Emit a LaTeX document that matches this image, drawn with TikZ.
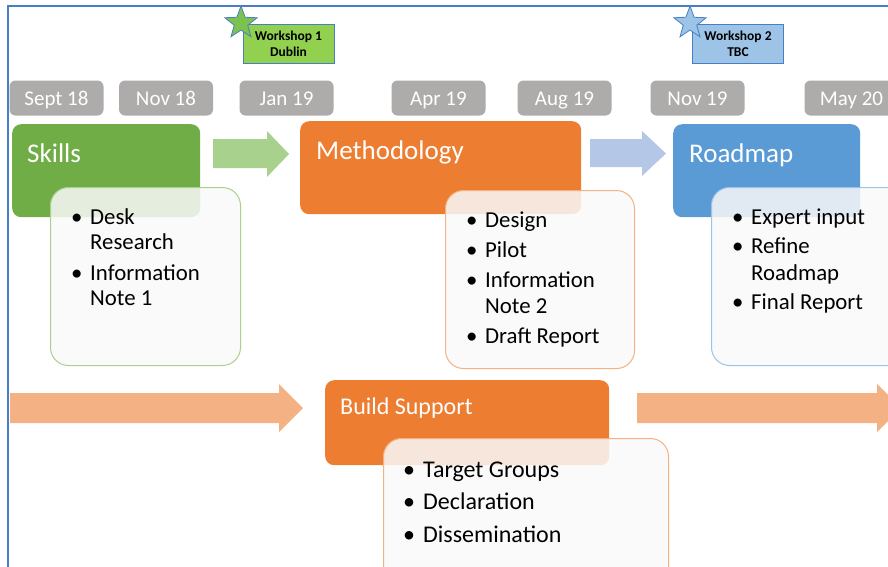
\documentclass[tikz,border=0pt]{standalone}
\usepackage{fontspec}
\setmainfont{Carlito}
\usetikzlibrary{shapes.geometric}

\definecolor{frameblue}{HTML}{4A7EC4}
\definecolor{dategray}{HTML}{AEABAB}
\definecolor{skillgreen}{HTML}{70AD47}
\definecolor{lightgreen}{HTML}{A9D18E}
\definecolor{methorange}{HTML}{ED7D31}
\definecolor{lightorange}{HTML}{F4B183}
\definecolor{roadblue}{HTML}{5B9BD5}
\definecolor{lightblue}{HTML}{B4C7E7}
\definecolor{paleblue}{HTML}{9DC3E6}
\definecolor{wsgreen}{HTML}{92D050}
\definecolor{stargreen}{HTML}{7CC24E}
\definecolor{detailfill}{HTML}{F9F9F9}

\begin{document}
\begin{tikzpicture}[x=1pt,y=-1pt,
  datebox/.style={fill=dategray, rounded corners=6pt, minimum width=94pt,
    minimum height=35pt, inner sep=0pt, text=white, text height=14.5pt,
    text depth=0pt, font=\fontsize{21}{24}\selectfont},
  headbox/.style={rounded corners=9pt, anchor=north west, inner sep=0pt},
  detailbox/.style={rounded corners=18pt, fill=detailfill, fill opacity=0.85,
    line width=1pt, anchor=north west, inner sep=0pt},
  headtext/.style={text=white, anchor=base west, inner sep=0pt,
    font=\fontsize{27}{30}\selectfont},
  listtext/.style={anchor=base west, inner sep=0pt},
  wsbox/.style={draw=frameblue, line width=0.8pt, minimum width=91pt,
    minimum height=39pt, inner sep=0pt, align=center,
    font=\fontsize{13.5}{16}\selectfont\bfseries},
  wsstar/.style={star, star points=5, star point ratio=2.4, minimum size=34pt,
    inner sep=0pt, draw=frameblue, line width=0.8pt}
]
\clip (0,0) rectangle (888,566);

% frame lines
\draw[frameblue, line width=1.5pt] (8,570) -- (8,6) -- (892,6);

% workshops
\node[wsbox, fill=wsgreen] (ws1) at (288.5,43.5) {Workshop 1\\Dublin};
\node[wsstar, fill=stargreen] (star1) at (241,23) {};
\node[wsbox, fill=paleblue] (ws2) at (738,43.5) {Workshop 2\\TBC};
\node[wsstar, fill=paleblue] (star2) at (690,23) {};

% time line
\node[datebox] (d1) at (56.5,98) {Sept 18};
\node[datebox] (d2) at (166,98) {Nov 18};
\node[datebox] (d3) at (286.5,98) {Jan 19};
\node[datebox] (d4) at (438.5,98) {Apr 19};
\node[datebox] (d5) at (564.5,98) {Aug 19};
\node[datebox] (d6) at (697.5,98) {Nov 19};
\node[datebox] (d7) at (851.5,98) {May 20};

% block arrows
\fill[lightgreen] (213,139) -- (267,139) -- (267,131) -- (289,154)
  -- (267,177) -- (267,168) -- (213,168) -- cycle;
\fill[lightblue] (590,139) -- (642,139) -- (642,131) -- (666,153.5)
  -- (642,176) -- (642,167) -- (590,167) -- cycle;
\fill[lightorange] (10,393) -- (279,393) -- (279,384) -- (303,408)
  -- (279,432) -- (279,423) -- (10,423) -- cycle;
\fill[lightorange] (637,393) -- (877,393) -- (877,384) -- (901,408)
  -- (877,432) -- (877,423) -- (637,423) -- cycle;

% phase headers
\node[headbox, fill=skillgreen, minimum width=188pt, minimum height=93pt] (skills) at (12,124) {};
\node[headbox, fill=methorange, minimum width=281pt, minimum height=93pt] (meth) at (300,121) {};
\node[headbox, fill=roadblue, minimum width=187pt, minimum height=93pt] (road) at (673,124) {};
\node[headbox, fill=methorange, minimum width=284pt, minimum height=85pt] (build) at (325,380) {};

% detail panels
\node[detailbox, draw=lightgreen, minimum width=190pt, minimum height=178pt] (skillsd) at (50,187) {};
\node[detailbox, draw=lightorange, minimum width=189pt, minimum height=178pt] (methd) at (445,190) {};
\node[detailbox, draw=paleblue, minimum width=200pt, minimum height=178pt] (roadd) at (711,187) {};
\node[detailbox, draw=lightorange, minimum width=285pt, minimum height=160pt] (buildd) at (383,438) {};

% header texts
\node[headtext] (skillst) at (27,162) {Skills};
\node[headtext] (metht) at (316,159) {Methodology};
\node[headtext] (roadt) at (689,162) {Roadmap};
\node[headtext, font=\fontsize{24}{28}\selectfont] (buildt) at (340,414) {Build Support};

% lists
\node[listtext, font=\fontsize{22.8}{25}\selectfont] (skillsl) at (71,224) {%
  \begin{tabular}[t]{@{}p{19pt}@{}l@{}}
  \textbullet & Desk\\
              & Research\\[6pt]
  \textbullet & Information\\
              & Note 1
  \end{tabular}};
\node[listtext, font=\fontsize{22.8}{26}\selectfont] (methl) at (466,227) {%
  \begin{tabular}[t]{@{}p{19pt}@{}l@{}}
  \textbullet & Design\\[4pt]
  \textbullet & Pilot\\[4pt]
  \textbullet & Information\\
              & Note 2\\[4pt]
  \textbullet & Draft Report
  \end{tabular}};
\node[listtext, font=\fontsize{22.8}{27}\selectfont] (roadl) at (732,224) {%
  \begin{tabular}[t]{@{}p{19pt}@{}l@{}}
  \textbullet & Expert input\\[2pt]
  \textbullet & Refine\\
              & Roadmap\\[2pt]
  \textbullet & Final Report
  \end{tabular}};
\node[listtext, font=\fontsize{24}{32.5}\selectfont] (buildl) at (403,477) {%
  \begin{tabular}[t]{@{}p{20pt}@{}l@{}}
  \textbullet & Target Groups\\
  \textbullet & Declaration\\
  \textbullet & Dissemination
  \end{tabular}};
\end{tikzpicture}
\end{document}
